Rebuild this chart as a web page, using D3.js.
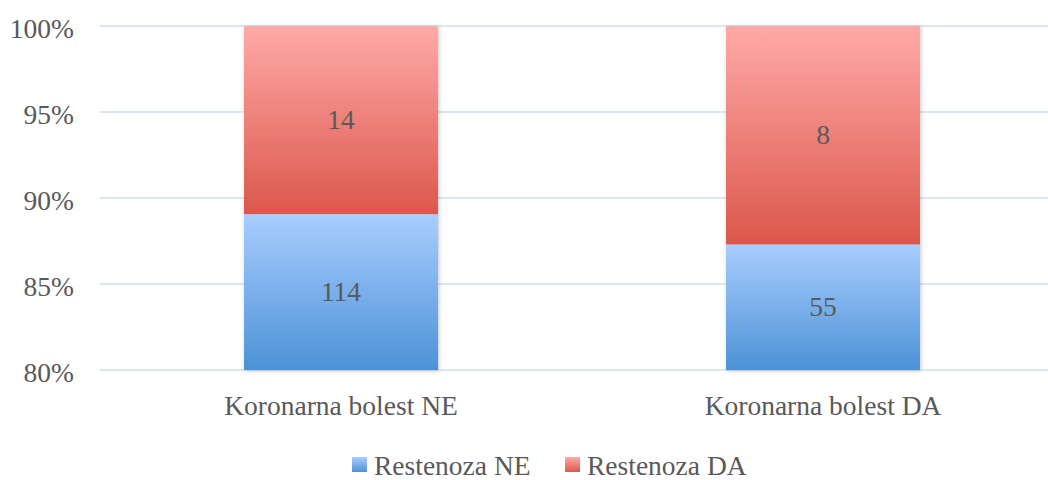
<!DOCTYPE html>
<html>
<head>
<meta charset="utf-8">
<script src="https://cdn.jsdelivr.net/npm/d3@7"></script>
<style>
  html, body { margin: 0; padding: 0; background: #fff; }
  #wrap { position: relative; width: 1048px; height: 480px; overflow: hidden; }
  svg { display: block; position: absolute; left: 0; top: 0; }
  .lbl {
    position: absolute;
    white-space: nowrap;
    line-height: 0.9;
    color: #595959;
  }
</style>
</head>
<body>
<div id="wrap">
  <svg id="chart" width="1048" height="480"></svg>
  <div id="labels"></div>
</div>
<script>
// Chart data
const categories = ["Koronarna bolest NE", "Koronarna bolest DA"];
const seriesNames = ["Restenoza NE", "Restenoza DA"];
const restenozaNE = [114, 55];
const restenozaDA = [14, 8];
const yTicks = [0.80, 0.85, 0.90, 0.95, 1.00];

const width = 1048, height = 480;
const margin = { left: 100, right: -16, top: 26, bottom: 110 };
const fontPx = 27.5;
const fontFamily = '"Liberation Serif", "Times New Roman", monospace';
// distance from box top to baseline at line-height 0.9 (ascent 0.891, descent 0.216)
const ascentShift = ((0.9 - 1.107) / 2 + 0.891) * fontPx;

const svg = d3.select("#chart");
const labels = d3.select("#labels");
const defs = svg.append("defs");

// Place text labels by baseline point and anchor
function placeLabels(data, xFn, baseFn, anchor, textFn) {
  const shift = anchor === "middle" ? "-50%" : anchor === "end" ? "-100%" : "0";
  labels.append("div").selectAll("div")
    .data(data)
    .join("div")
    .attr("class", "lbl")
    .style("font-family", fontFamily)
    .style("font-size", fontPx + "px")
    .style("left", d => xFn(d) + "px")
    .style("top", d => (baseFn(d) - ascentShift) + "px")
    .style("transform", `translateX(${shift})`)
    .text(textFn);
}

// Vertical gradients for each series (light at top, darker at bottom)
const gradients = [
  { id: "gBlue", top: "#a9cdff", bottom: "#4c92d6" },
  { id: "gRed", top: "#ffaaa8", bottom: "#db574b" }
];
gradients.forEach(g => {
  const lg = defs.append("linearGradient")
    .attr("id", g.id).attr("x1", 0).attr("y1", 0).attr("x2", 0).attr("y2", 1);
  lg.append("stop").attr("offset", "0%").attr("stop-color", g.top);
  lg.append("stop").attr("offset", "100%").attr("stop-color", g.bottom);
});

// Soft shadow under the columns
const shadow = defs.append("filter").attr("id", "shadow")
  .attr("x", "-10%").attr("y", "-10%").attr("width", "120%").attr("height", "120%");
shadow.append("feDropShadow")
  .attr("dx", 1).attr("dy", 1).attr("stdDeviation", 2)
  .attr("flood-color", "#000").attr("flood-opacity", 0.22);

const x = d3.scaleBand()
  .domain(categories)
  .range([margin.left, width - margin.right])
  .padding(0);

const y = d3.scaleLinear()
  .domain([0.80, 1.00])
  .range([height - margin.bottom, margin.top]);

// Gridlines
svg.append("g")
  .selectAll("line")
  .data(yTicks)
  .join("line")
  .attr("x1", margin.left)
  .attr("x2", width - margin.right)
  .attr("y1", d => y(d))
  .attr("y2", d => y(d))
  .attr("stroke", "#dce7f4")
  .attr("stroke-width", 2);

// Y axis tick labels
const pct = d3.format(".0%");
placeLabels(yTicks, () => margin.left - 26, d => y(d) + 13, "end", d => pct(d));

// Stack into percentages
const stackData = categories.map((c, i) => {
  const total = restenozaNE[i] + restenozaDA[i];
  return {
    category: c,
    "Restenoza NE": restenozaNE[i] / total,
    "Restenoza DA": restenozaDA[i] / total,
    raw: { "Restenoza NE": restenozaNE[i], "Restenoza DA": restenozaDA[i] }
  };
});
const layers = d3.stack().keys(seriesNames)(stackData);

const barRatio = 194 / 482;
const barW = x.bandwidth() * barRatio;
const yMin = y.domain()[0];
const segTop = d => y(Math.max(d[1], yMin));
const segBottom = d => y(Math.max(d[0], yMin));

const fills = { "Restenoza NE": "url(#gBlue)", "Restenoza DA": "url(#gRed)" };

// Columns
const barsG = svg.append("g").attr("filter", "url(#shadow)");
layers.forEach(layer => {
  barsG.selectAll(null)
    .data(layer)
    .join("rect")
    .attr("x", d => x(d.data.category) + (x.bandwidth() - barW) / 2)
    .attr("width", barW)
    .attr("y", segTop)
    .attr("height", d => segBottom(d) - segTop(d))
    .attr("fill", fills[layer.key]);
});

// Value labels, centred in each segment
layers.forEach(layer => {
  placeLabels(layer,
    d => x(d.data.category) + x.bandwidth() / 2,
    d => (segTop(d) + segBottom(d)) / 2 + 9.5,
    "middle",
    d => d.data.raw[layer.key]);
});

// Category labels
placeLabels(categories, d => x(d) + x.bandwidth() / 2, () => 416, "middle", d => d);

// Legend
const legendItems = [
  { name: "Restenoza NE", fill: "url(#gBlue)", x: 352 },
  { name: "Restenoza DA", fill: "url(#gRed)", x: 565 }
];
svg.append("g").selectAll("rect")
  .data(legendItems)
  .join("rect")
  .attr("x", d => d.x)
  .attr("y", 457)
  .attr("width", 15)
  .attr("height", 15)
  .attr("fill", d => d.fill);
placeLabels(legendItems, d => d.x + 22, () => 476, "start", d => d.name);
</script>
</body>
</html>
